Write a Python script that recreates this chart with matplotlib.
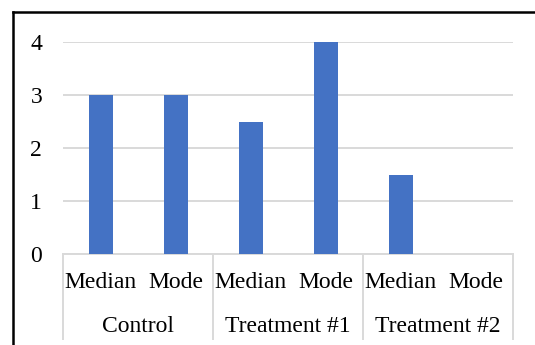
import matplotlib.pyplot as plt
from matplotlib.lines import Line2D
from matplotlib.transforms import blended_transform_factory

plt.rcParams["font.family"] = ["Liberation Serif", "DejaVu Serif"]

GROUPS = ["Control", "Treatment #1", "Treatment #2"]
STATS = ["Median", "Mode"]
VALUES = [3, 3, 2.5, 4, 1.5, 0]
Y_TICKS = [0, 1, 2, 3, 4]

W, H = 535, 345
FS = 17
fig = plt.figure(figsize=(W / 100, H / 100), dpi=100)

# plot area in pixels
left, right, top, bottom = 63, 513, 42, 254
ax = fig.add_axes([left / W, 1 - bottom / H, (right - left) / W, (bottom - top) / H])

x = list(range(len(VALUES)))
ax.bar(x, VALUES, width=0.32, color="#4472C4", zorder=3)
ax.set_xlim(-0.5, len(VALUES) - 0.5)
ax.set_ylim(0, 4)
ax.set_yticks(Y_TICKS)
ax.set_yticklabels([str(t) for t in Y_TICKS], fontsize=FS)
ax.tick_params(axis="y", length=0, pad=15)
ax.tick_params(axis="x", length=0, labelbottom=False)
ax.grid(axis="y", color="#D9D9D9", linewidth=1.4, zorder=0)
for side in ["top", "right", "left"]:
    ax.spines[side].set_visible(False)
ax.spines["bottom"].set_color("#D9D9D9")
ax.spines["bottom"].set_linewidth(1.4)

# two-level category labels
tr = blended_transform_factory(ax.transData, fig.transFigure)
labels = [s for _ in GROUPS for s in STATS]
for i, lab in enumerate(labels):
    ax.text(i, 1 - 283 / H, lab, transform=tr, ha="center", va="center", fontsize=FS)
for g, name in enumerate(GROUPS):
    ax.text(2 * g + 0.5, 1 - 327 / H, name, transform=tr, ha="center", va="center", fontsize=FS)
for b in [-0.5, 1.5, 3.5, 5.5]:
    fig.add_artist(Line2D([b, b], [1 - bottom / H, 1 - 339 / H], transform=tr,
                          color="#D9D9D9", linewidth=1.4))

# chart frame (left and top edges visible)
fig.add_artist(Line2D([13 / W, 13 / W], [0, 1 - 12 / H], color="black", linewidth=1.8))
fig.add_artist(Line2D([13 / W, 1], [1 - 12 / H, 1 - 12 / H], color="black", linewidth=1.8))

fig.savefig("out.png", dpi=100)
